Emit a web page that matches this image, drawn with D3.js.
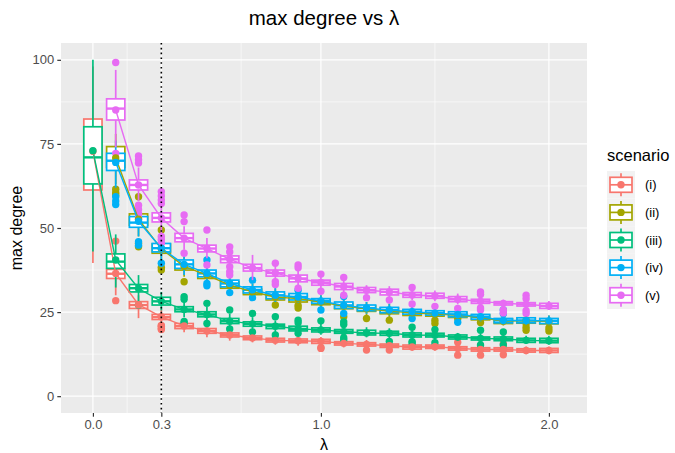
<!DOCTYPE html>
<html><head><meta charset="utf-8">
<script src="https://cdn.jsdelivr.net/npm/d3@7"></script>
<style>body{margin:0;background:#fff}svg{display:block}text{font-family:"Liberation Sans",Arial,sans-serif}</style>
</head><body>
<svg id="chart" width="675" height="453"></svg>
<script>
const lambdas = [0.0,0.1,0.2,0.3,0.4,0.5,0.6,0.7,0.8,0.9,1.0,1.1,1.2,1.3,1.4,1.5,1.6,1.7,1.8,1.9,2.0];
const scenarios = ["(i)","(ii)","(iii)","(iv)","(v)"];
const colors = ["#F8766D","#A3A500","#00BF7D","#00B0F6","#E76BF3"];
const xTicks = [0.0,0.3,1.0,2.0];
const xMinor = [0.15,0.65,1.5];
const yTicks = [0,25,50,75,100];
const yMinor = [12.5,37.5,62.5,87.5];
const vlineAt = 0.3;

const q1 = [
 [61.3,35.0,26.1,22.8,20.1,18.7,17.6,16.8,16.1,15.9,15.7,15.2,14.9,14.5,14.0,14.2,13.7,13.4,13.4,13.1,13.0],
 [null,68.0,50.8,42.5,37.5,35.0,32.1,30.2,28.6,28.0,27.2,26.0,25.2,24.5,24.0,23.8,23.4,22.7,21.6,21.7,21.5],
 [63.1,38.0,31.0,27.1,25.1,23.6,21.6,20.8,20.1,19.4,19.1,18.7,18.2,18.1,17.6,17.6,17.0,16.7,16.5,16.0,15.9],
 [null,67.1,50.2,42.9,38.0,35.5,32.5,30.7,29.0,28.6,27.6,26.1,25.4,24.8,24.4,24.1,23.6,22.9,21.8,21.8,21.6],
 [null,82.1,61.3,51.8,45.9,42.9,39.7,37.2,35.7,34.0,33.0,31.7,30.8,30.1,29.4,29.1,28.1,27.6,27.1,26.8,26.1]];
const medians = [
 [71.0,36.4,27.1,23.5,20.8,19.4,18.2,17.3,16.6,16.4,16.3,15.7,15.4,15.0,14.6,14.7,14.2,13.9,13.9,13.6,13.6],
 [null,71.0,52.5,43.8,38.7,36.0,33.0,31.0,29.5,29.0,28.0,26.8,26.0,25.3,24.8,24.5,24.1,23.4,22.3,22.5,22.2],
 [71.0,40.0,32.1,28.2,25.8,24.3,22.3,21.5,20.8,20.0,19.7,19.2,18.8,18.7,18.2,18.1,17.6,17.2,17.0,16.6,16.5],
 [null,70.0,51.6,44.0,39.2,36.5,33.5,31.6,30.0,29.5,28.3,27.0,26.2,25.6,25.1,24.7,24.3,23.6,22.5,22.5,22.4],
 [null,85.5,62.8,53.0,47.0,43.9,40.7,38.1,36.6,35.0,33.8,32.6,31.5,31.0,30.1,29.8,28.8,28.2,27.6,27.3,26.8]];
const q3 = [
 [82.4,37.7,28.1,24.3,21.6,20.1,18.8,17.9,17.2,17.0,16.9,16.2,15.9,15.5,15.2,15.2,14.7,14.4,14.4,14.1,14.2],
 [null,74.2,54.2,45.2,39.8,37.0,34.0,31.8,30.4,30.0,28.7,27.6,26.8,26.2,25.6,25.2,24.9,24.1,23.0,23.2,23.0],
 [80.1,42.3,33.2,29.4,26.6,25.1,23.1,22.1,21.4,20.8,20.3,19.8,19.6,19.3,18.8,18.7,18.2,17.6,17.6,17.2,17.2],
 [null,72.2,53.4,45.4,40.5,37.5,34.5,32.5,31.0,30.5,29.0,28.0,27.1,26.4,25.8,25.4,25.1,24.3,23.1,23.3,23.1],
 [null,88.4,64.3,54.5,48.4,44.9,41.7,39.2,37.5,36.0,34.5,33.5,32.3,31.8,30.8,30.6,29.6,28.8,28.1,27.8,27.6]];
const whiskerLow = [
 [39.6,30.0,23.2,21.5,19.0,17.5,16.5,16.0,15.3,15.0,14.9,14.5,14.0,14.0,13.5,13.5,13.0,12.8,12.8,12.5,12.5],
 [null,63.0,47.5,40.0,35.5,33.5,30.5,29.0,27.5,27.3,26.0,25.0,24.0,23.5,23.0,23.0,22.5,22.0,21.0,21.0,21.0],
 [43.0,32.3,28.1,25.5,23.5,22.5,20.5,19.8,19.0,18.7,18.3,17.5,17.5,17.2,16.8,16.8,16.5,16.0,15.8,15.5,15.3],
 [null,62.0,47.5,40.5,36.0,34.0,31.5,29.8,28.0,27.8,26.5,25.2,24.5,24.0,23.5,23.3,22.8,22.2,21.2,21.2,21.1],
 [null,74.0,58.0,48.5,43.5,41.0,38.8,34.5,34.5,32.8,32.0,30.8,30.0,29.4,28.6,28.2,27.3,26.8,26.6,26.2,25.6]];
const whiskerHigh = [
 [98.0,42.0,30.0,26.0,23.0,21.5,20.2,19.0,18.5,18.3,17.6,17.0,16.7,16.3,16.0,16.0,15.5,15.2,15.0,14.8,14.8],
 [null,78.0,57.0,48.0,42.0,39.0,36.0,33.5,32.0,31.0,30.0,29.0,28.0,27.5,27.0,26.0,26.0,25.3,24.0,24.3,24.0],
 [100.0,48.1,36.0,31.0,28.0,26.5,24.5,23.5,22.5,22.0,21.5,21.0,20.5,20.2,19.6,19.6,18.8,18.5,18.4,18.0,18.0],
 [null,76.0,56.0,48.0,43.0,39.5,36.0,33.5,32.5,31.5,30.0,29.0,28.0,27.5,26.8,26.3,26.0,25.0,24.0,24.3,24.0],
 [null,97.0,68.0,57.0,50.5,47.0,42.5,42.0,38.5,37.5,35.5,34.5,33.0,32.7,31.6,31.4,30.5,29.6,28.7,28.5,28.3]];
const means = [
 [72.8,36.5,27.2,23.6,20.9,19.4,18.2,17.3,16.6,16.5,16.3,15.7,15.4,15.0,14.6,14.7,14.2,13.9,13.9,13.6,13.6],
 [null,70.8,52.6,43.8,38.6,36.0,33.0,31.0,29.5,29.0,28.0,26.8,26.0,25.3,24.8,24.4,24.1,23.4,22.3,22.5,22.2],
 [73.0,40.5,32.0,28.2,25.8,24.3,22.3,21.5,20.8,20.0,19.7,19.2,18.8,18.7,18.2,18.1,17.6,17.2,17.0,16.6,16.5],
 [null,69.5,52.0,44.0,39.2,36.5,33.5,31.6,30.0,29.5,28.3,27.0,26.2,25.6,25.1,24.7,24.3,23.6,22.5,22.5,22.4],
 [null,85.1,62.8,53.0,47.0,43.9,40.7,38.1,36.6,35.0,33.8,32.6,31.5,31.0,30.1,29.8,28.8,28.2,27.6,27.3,26.8]];
const outliers = [
 [[],[46.1,28.4],[],[20.8,20.2,19.8,21.0],[],[],[],[],[],[],[14.2,14.5],[],[13.7],[13.7],[],[],[16.0,12.2],[12.2],[12.3,15.5],[],[]],
 [[],[61.5,60.5,59.8],[59.3,44.4,45.5],[49.4,37.5,38.3],[34.0],[],[],[],[27.1],[26.2,27.0],[],[23.6],[23.1],[22.6],[],[22.6,21.6],[23.1],[21.9],[],[21.6,20.5,19.6],[20.3,19.4]],
 [[],[],[27.1],[],[29.6,28.8,22.2,21.7],[27.6,21.6],[25.6,20.0],[24.6,19.1],[23.6,18.2],[22.6,21.8,18.7],[22.4],[22.1,21.3,16.7,17.4],[],[16.3],[20.5,15.8,16.2],[19.8,15.9],[],[19.6,15.2],[19.1,15.2],[],[]],
 [[],[59.3,58.0,57.0],[45.9,44.9],[39.5],[],[40.5,33.5,32.8],[30.8],[34.5,29.3],[],[31.5],[25.6],[29.6,24.6],[],[],[23.1],[],[22.0],[],[25.6,24.5],[],[]],
 [[],[99.2,72.2],[71.4,70.3,69.3,56.8,55.5,54.2,53.0],[60.8,59.5,58.3,57.3,47.5,46.5,45.5],[53.9,51.9,42.5],[49.4,39.0],[44.4,42.9,38.5,37.0,36.0],[],[39.5,34.0,33.2],[39.0,38.2,32.1],[36.3,31.2],[35.3,30.0],[29.3],[28.6],[32.3,27.4],[26.7],[26.1],[31.0,30.2,25.6,26.2],[25.6,24.7],[30.0,29.0,25.4,24.6],[]]];

const W = 675, H = 453;
const P = {left: 61, right: 587, top: 43, bottom: 413};
const svg = d3.select("#chart");
const x = d3.scaleLinear().domain([-0.14, 2.167]).range([P.left, P.right]);
const y = d3.scaleLinear().domain([-5, 105]).range([P.bottom, P.top]);
const boxW = 0.08;
const bw = x(boxW) - x(0);
const SW = 1.7, PR = 3.7;

// panel
svg.append("rect").attr("x",P.left).attr("y",P.top).attr("width",P.right-P.left).attr("height",P.bottom-P.top).attr("fill","#EBEBEB");
const grid = svg.append("g");
yMinor.forEach(v=>grid.append("line").attr("x1",P.left).attr("x2",P.right).attr("y1",y(v)).attr("y2",y(v)).attr("stroke","#fff").attr("stroke-width",0.6));
xMinor.forEach(v=>grid.append("line").attr("y1",P.top).attr("y2",P.bottom).attr("x1",x(v)).attr("x2",x(v)).attr("stroke","#fff").attr("stroke-width",0.6));
yTicks.forEach(v=>grid.append("line").attr("x1",P.left).attr("x2",P.right).attr("y1",y(v)).attr("y2",y(v)).attr("stroke","#fff").attr("stroke-width",1.2));
xTicks.forEach(v=>grid.append("line").attr("y1",P.top).attr("y2",P.bottom).attr("x1",x(v)).attr("x2",x(v)).attr("stroke","#fff").attr("stroke-width",1.2));

// boxplots
const gb = svg.append("g");
scenarios.forEach((s,si)=>{
  const c = colors[si];
  const g = gb.append("g");
  lambdas.forEach((l,li)=>{
    if (q1[si][li] == null) return;
    const cx = x(l);
    g.append("line").attr("x1",cx).attr("x2",cx).attr("y1",y(whiskerHigh[si][li])).attr("y2",y(q3[si][li])).attr("stroke",c).attr("stroke-width",SW);
    g.append("line").attr("x1",cx).attr("x2",cx).attr("y1",y(q1[si][li])).attr("y2",y(whiskerLow[si][li])).attr("stroke",c).attr("stroke-width",SW);
    g.append("rect").attr("x",cx-bw/2).attr("y",y(q3[si][li])).attr("width",bw).attr("height",y(q1[si][li])-y(q3[si][li]))
      .attr("fill","#fff").attr("stroke",c).attr("stroke-width",SW);
    g.append("line").attr("x1",cx-bw/2).attr("x2",cx+bw/2).attr("y1",y(medians[si][li])).attr("y2",y(medians[si][li])).attr("stroke",c).attr("stroke-width",2.4);
    outliers[si][li].forEach(o=>g.append("circle").attr("cx",cx).attr("cy",y(o)).attr("r",PR).attr("fill",c));
  });
});

// mean lines
const line = d3.line().defined(d=>d[1]!=null).x(d=>x(d[0])).y(d=>y(d[1]));
scenarios.forEach((s,si)=>{
  svg.append("path").datum(lambdas.map((l,li)=>[l,means[si][li]])).attr("d",line)
    .attr("fill","none").attr("stroke",colors[si]).attr("stroke-width",1.4);
});
// mean points
scenarios.forEach((s,si)=>{
  lambdas.forEach((l,li)=>{
    if (means[si][li]==null) return;
    svg.append("circle").attr("cx",x(l)).attr("cy",y(means[si][li])).attr("r",PR).attr("fill",colors[si]);
  });
});

// dotted vline
svg.append("line").attr("x1",x(vlineAt)).attr("x2",x(vlineAt)).attr("y1",P.top).attr("y2",P.bottom)
  .attr("stroke","#000").attr("stroke-width",1.6).attr("stroke-dasharray","1.6,3.2");

// axes
const ax = svg.append("g").attr("transform",`translate(0,${P.bottom})`)
  .call(d3.axisBottom(x).tickValues(xTicks).tickFormat(d3.format(".1f")).tickSize(3.7).tickPadding(3));
const ay = svg.append("g").attr("transform",`translate(${P.left},0)`)
  .call(d3.axisLeft(y).tickValues(yTicks).tickSize(3.7).tickPadding(3));
[ax,ay].forEach(a=>{
  a.select(".domain").remove();
  a.selectAll(".tick line").attr("stroke","#333333").attr("stroke-width",1.2);
  a.selectAll(".tick text").attr("fill","#4D4D4D").style("font-size","13px").style("font-family","'Liberation Sans',Arial,sans-serif");
});

// titles
svg.append("text").attr("x",(P.left+P.right)/2).attr("y",25).attr("text-anchor","middle").style("font-size","20.5px").attr("fill","#000").text("max degree vs λ");
svg.append("text").attr("x",(P.left+P.right)/2).attr("y",450).attr("text-anchor","middle").style("font-size","16px").attr("fill","#000").text("λ");
svg.append("text").attr("transform",`translate(21.5,${(P.top+P.bottom)/2}) rotate(-90)`).attr("text-anchor","middle").style("font-size","16px").attr("fill","#000").text("max degree");

// legend
const lg = svg.append("g");
lg.append("text").attr("x",607).attr("y",161).style("font-size","16.5px").attr("fill","#000").text("scenario");
const kTop = 171, kH = 27.6, kX = 607, kW = 28;
scenarios.forEach((s,si)=>{
  const cy = kTop + kH*si + kH/2, cx = kX + kW/2, c = colors[si];
  lg.append("rect").attr("x",kX).attr("y",kTop+kH*si).attr("width",kW).attr("height",kH).attr("fill","#F2F2F2");
  lg.append("line").attr("x1",cx).attr("x2",cx).attr("y1",cy-11.5).attr("y2",cy+11.5).attr("stroke",c).attr("stroke-width",SW);
  lg.append("rect").attr("x",kX+3).attr("y",cy-7.5).attr("width",kW-6).attr("height",15).attr("fill","#fff").attr("stroke",c).attr("stroke-width",SW);
  lg.append("line").attr("x1",kX+3).attr("x2",kX+kW-3).attr("y1",cy).attr("y2",cy).attr("stroke",c).attr("stroke-width",SW);
  lg.append("circle").attr("cx",cx).attr("cy",cy).attr("r",PR).attr("fill",c);
  lg.append("text").attr("x",645).attr("y",cy+4.5).style("font-size","13px").attr("fill","#000").text(s);
});
</script>
</body></html>
